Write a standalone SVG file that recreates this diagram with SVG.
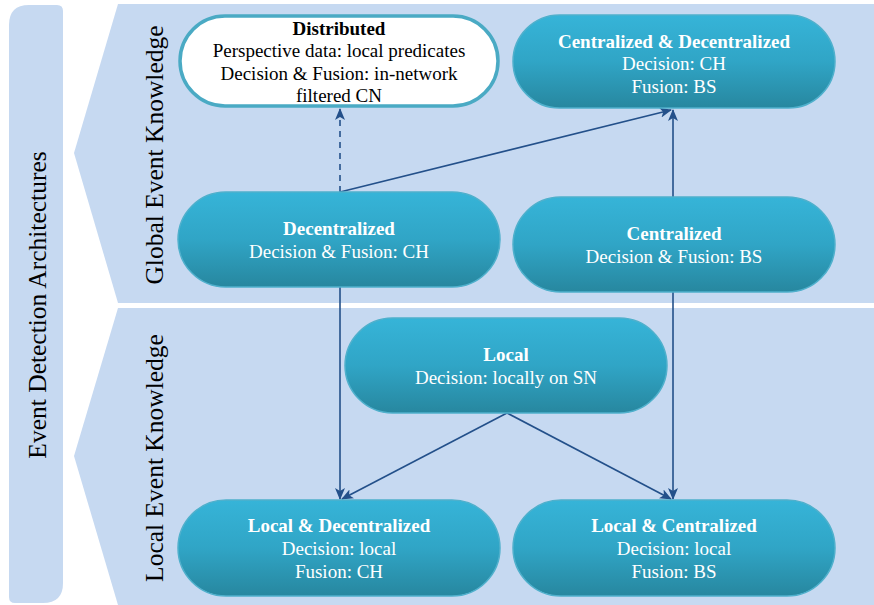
<svg xmlns="http://www.w3.org/2000/svg" width="874" height="605" viewBox="0 0 874 605">
  <defs>
    <linearGradient id="pill" x1="0" y1="0" x2="0" y2="1">
      <stop offset="0" stop-color="#36b4d8"/>
      <stop offset="0.5" stop-color="#30a5c6"/>
      <stop offset="1" stop-color="#27879f"/>
    </linearGradient>
    <marker id="arrow" viewBox="0 0 12 10" refX="11" refY="5" markerWidth="12" markerHeight="10" markerUnits="userSpaceOnUse" orient="auto">
      <path d="M0,0 L12,5 L0,10 L3,5 Z" fill="#23508a"/>
    </marker>
    <style>
      .band { fill: #c6d9f1; }
      .node { fill: url(#pill); stroke: #4fb0cc; stroke-width: 1.5; }
      .white { fill: #ffffff; stroke: #4aaac4; stroke-width: 3.5; }
      text { font-family: "Liberation Serif", "Times New Roman", serif; font-size: 19px; text-anchor: middle; }
      .t { fill: #ffffff; }
      .d { fill: #000000; }
      .b { font-weight: bold; }
      .side { font-size: 25.5px; fill: #000000; }
      .edge { stroke: #23508a; stroke-width: 1.6; fill: none; marker-end: url(#arrow); }
      .dash { stroke-dasharray: 6 5; }
    </style>
  </defs>

  <!-- background bands -->
  <path class="band" d="M29,5 H57 Q63,5 63,11 V583 Q63,603 43,603 H15 Q9,603 9,597 V25 Q9,5 29,5 Z"/>
  <path class="band" d="M118,4 H874 V303 H118 L74,153 Z"/>
  <path class="band" d="M118,308 H874 V605 H118 L74,456 Z"/>

  <text class="side" transform="translate(46,305) rotate(-90)">Event Detection Architectures</text>
  <text class="side" transform="translate(163,155) rotate(-90)">Global Event Knowledge</text>
  <text class="side" transform="translate(163,458) rotate(-90)">Local Event Knowledge</text>

  <!-- connectors -->
  <g id="connectors">
    <line class="edge dash" x1="340" y1="192" x2="340" y2="109"/>
    <line class="edge" x1="340" y1="192" x2="671" y2="110"/>
    <line class="edge" x1="673" y1="197" x2="673" y2="110"/>
    <line class="edge" x1="340" y1="287" x2="340" y2="499"/>
    <line class="edge" x1="673" y1="292" x2="673" y2="499"/>
    <line class="edge" x1="507" y1="413" x2="342" y2="499"/>
    <line class="edge" x1="507" y1="413" x2="671" y2="499"/>
  </g>

  <g id="distributed">
    <rect class="white" x="180" y="16" width="318" height="90" rx="45"/>
    <text class="d b" x="339" y="35">Distributed</text>
    <text class="d" x="339" y="57">Perspective data: local predicates</text>
    <text class="d" x="339" y="80">Decision &amp; Fusion: in-network</text>
    <text class="d" x="339" y="102">filtered CN</text>
  </g>

  <g id="centralized-decentralized">
    <rect class="node" x="513" y="15" width="322" height="93" rx="46.5"/>
    <text class="t b" x="674" y="48">Centralized &amp; Decentralized</text>
    <text class="t" x="674" y="70">Decision: CH</text>
    <text class="t" x="674" y="93">Fusion: BS</text>
  </g>

  <g id="decentralized">
    <rect class="node" x="178" y="192" width="322" height="95" rx="47.5"/>
    <text class="t b" x="339" y="235">Decentralized</text>
    <text class="t" x="339" y="258">Decision &amp; Fusion: CH</text>
  </g>

  <g id="centralized">
    <rect class="node" x="513" y="197" width="322" height="95" rx="47.5"/>
    <text class="t b" x="674" y="240">Centralized</text>
    <text class="t" x="674" y="263">Decision &amp; Fusion: BS</text>
  </g>

  <g id="local">
    <rect class="node" x="345" y="318" width="322" height="95" rx="47.5"/>
    <text class="t b" x="506" y="361">Local</text>
    <text class="t" x="506" y="384">Decision: locally on SN</text>
  </g>

  <g id="local-decentralized">
    <rect class="node" x="178" y="500" width="322" height="96" rx="48"/>
    <text class="t b" x="339" y="532">Local &amp; Decentralized</text>
    <text class="t" x="339" y="555">Decision: local</text>
    <text class="t" x="339" y="578">Fusion: CH</text>
  </g>

  <g id="local-centralized">
    <rect class="node" x="513" y="500" width="322" height="96" rx="48"/>
    <text class="t b" x="674" y="532">Local &amp; Centralized</text>
    <text class="t" x="674" y="555">Decision: local</text>
    <text class="t" x="674" y="578">Fusion: BS</text>
  </g>
</svg>
